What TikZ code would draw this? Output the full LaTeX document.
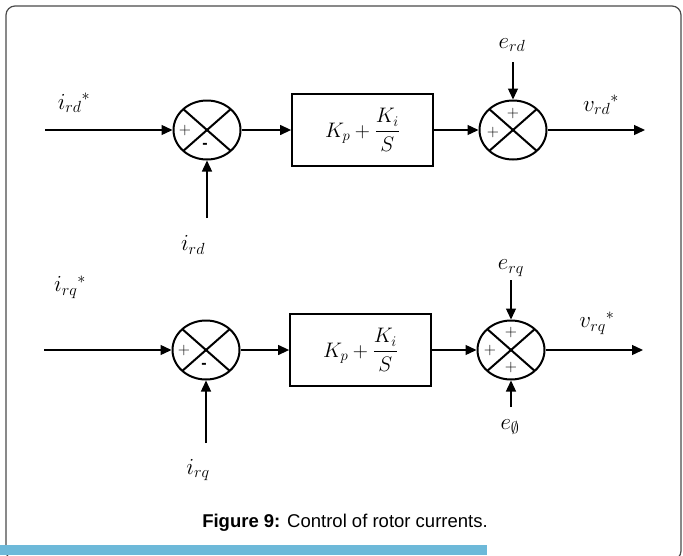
\RequirePackage{fix-cm}
\documentclass[tikz,border=0pt]{standalone}
\usepackage{amsmath,amssymb}
\usepackage{fontspec}
\setmainfont{Liberation Sans}
\usetikzlibrary{arrows.meta,positioning,shapes.geometric}
\definecolor{FrameGray}{HTML}{4A4A4A}
\definecolor{BarBlue}{HTML}{6DB9D9}

\begin{document}
\begin{tikzpicture}[x=1pt,y=-1pt,
  conn/.style={line width=1.3pt,-{Triangle[length=11pt,width=10pt]}},
  sumnode/.style={draw,ellipse,line width=2pt,minimum width=67pt,minimum height=59pt,inner sep=0pt,
    path picture={\draw[line width=2pt] (path picture bounding box.north west) -- (path picture bounding box.south east)
      (path picture bounding box.north east) -- (path picture bounding box.south west);}},
  pibox/.style={draw,line width=1.8pt,minimum width=141pt,minimum height=72pt,inner sep=0pt,
    font=\fontsize{21}{25}\selectfont},
  lbl/.style={inner sep=0pt,font=\fontsize{23}{27}\selectfont},
  sgn/.style={inner sep=0pt,font=\fontsize{16}{19}\selectfont}]
  \useasboundingbox (0,0) rectangle (683,555);
  \clip (0,0) rectangle (683,555);
  % frame and bottom bar
  \draw[FrameGray,line width=1.2pt,rounded corners=9pt] (6,6) rectangle (681,560);
  \fill[BarBlue] (0,545) rectangle (487,555);

  % d-axis loop
  \coordinate (ind) at (45,130);
  \node[sumnode] (sd1) at (207,130) {};
  \node[pibox] (pid) at (362.5,130) {$K_p+\dfrac{K_i}{S}$};
  \node[sumnode] (sd2) at (513,130) {};
  \coordinate (outd) at (645,130);
  \coordinate (fbd) at (207,218);
  \coordinate (erd) at (513,62);
  \node[lbl] (lind) at (74,103) {$i_{rd}{}^{*}$};
  \node[lbl] (lfbd) at (193,245) {$i_{rd}$};
  \node[lbl] (lerd) at (512,45) {$e_{rd}$};
  \node[lbl] (lvrd) at (601,105) {$v_{rd}{}^{*}$};
  \node[sgn] (pd1) at ([xshift=-22pt]sd1.center) {$+$};
  \node[sgn] (md1) at ([xshift=-2pt,yshift=-16pt]sd1.center) {\textbf{-}};
  \node[sgn] (pd2) at ([yshift=17pt]sd2.center) {$+$};
  \node[sgn] (pd3) at ([xshift=-20pt,yshift=-2pt]sd2.center) {$+$};
  \draw[conn] (ind) -- (sd1);
  \draw[conn] (sd1) -- (pid);
  \draw[conn] (pid) -- (sd2);
  \draw[conn] (sd2) -- (outd);
  \draw[conn] (fbd) -- (sd1);
  \draw[conn] (erd) -- (sd2);

  % q-axis loop
  \coordinate (inq) at (44,350);
  \node[sumnode] (sq1) at (206,350) {};
  \node[pibox] (piq) at (360.5,350) {$K_p+\dfrac{K_i}{S}$};
  \node[sumnode] (sq2) at (511,350) {};
  \coordinate (outq) at (643,350);
  \coordinate (fbq) at (206,443);
  \coordinate (erq) at (511,280);
  \coordinate (ephi) at (511,407);
  \node[lbl] (linq) at (70,287) {$i_{rq}{}^{*}$};
  \node[lbl] (lfbq) at (198,470) {$i_{rq}$};
  \node[lbl] (lerq) at (511,268) {$e_{rq}$};
  \node[lbl] (lvrq) at (597,323) {$v_{rq}{}^{*}$};
  \node[lbl] (lephi) at (510,427) {$e_{\emptyset}$};
  \node[sgn] (pq1) at ([xshift=-22pt]sq1.center) {$+$};
  \node[sgn] (mq1) at ([xshift=-2pt,yshift=-16pt]sq1.center) {\textbf{-}};
  \node[sgn] (pq2) at ([yshift=18pt]sq2.center) {$+$};
  \node[sgn] (pq3) at ([xshift=-21pt]sq2.center) {$+$};
  \node[sgn] (pq4) at ([yshift=-17pt]sq2.center) {$+$};
  \draw[conn] (inq) -- (sq1);
  \draw[conn] (sq1) -- (piq);
  \draw[conn] (piq) -- (sq2);
  \draw[conn] (sq2) -- (outq);
  \draw[conn] (fbq) -- (sq1);
  \draw[conn] (erq) -- (sq2);
  \draw[conn] (ephi) -- (sq2);

  % caption
  \node[anchor=base] (cap) at (345,527) {\fontsize{18.5}{22}\selectfont\textbf{Figure 9:} Control of rotor currents.};
\end{tikzpicture}
\end{document}
